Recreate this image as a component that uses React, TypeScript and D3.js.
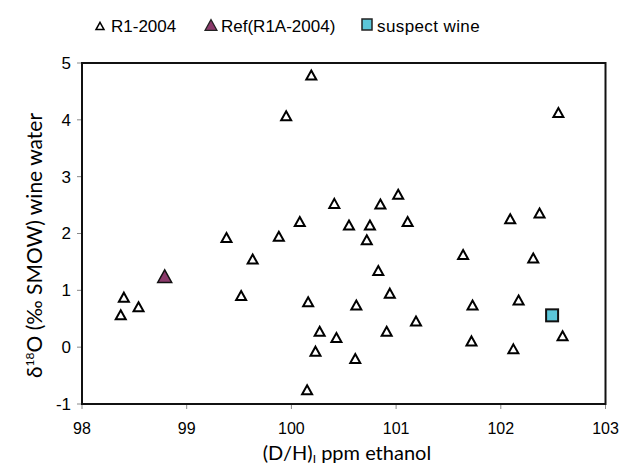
import * as d3 from 'd3'

// R1-2004 samples: (D/H)I ppm ethanol vs d18O wine water
const r1X = [
  100.19, 99.95, 102.55, 101.02, 100.41, 100.85, 102.37, 102.09, 100.08, 101.11,
  100.55, 100.75, 99.38, 99.88, 100.72, 101.64, 102.31, 99.63, 100.83, 98.4,
  99.52, 100.94, 102.17, 100.16, 100.62, 101.73, 98.54, 98.37, 101.19, 100.27,
  100.91, 102.59, 100.43, 101.72, 100.23, 102.12, 100.61, 100.15,
]
const r1Y = [
  4.79, 4.07, 4.13, 2.69, 2.53, 2.52, 2.36, 2.26, 2.21, 2.21,
  2.15, 2.15, 1.93, 1.95, 1.89, 1.63, 1.57, 1.55, 1.35, 0.88,
  0.91, 0.95, 0.83, 0.8, 0.74, 0.74, 0.71, 0.57, 0.46, 0.28,
  0.28, 0.2, 0.17, 0.11, -0.07, -0.03, -0.2, -0.75,
]
const refPoint = { x: 98.79, y: 1.25 }
const suspectPoint = { x: 102.49, y: 0.56 }

const xTicks = [98, 99, 100, 101, 102, 103]
const yTicks = [-1, 0, 1, 2, 3, 4, 5]

const width = 621
const height = 466
const margin = { left: 82, right: 15, top: 63, bottom: 62 }

const tri = (cx: number, cy: number, s: number) => {
  const h = s * 0.9
  return `M${cx},${cy - h / 2}L${cx + s / 2},${cy + h / 2}L${cx - s / 2},${cy + h / 2}Z`
}

export default function App() {
  const x = d3.scaleLinear().domain([98, 103]).range([margin.left, width - margin.right - 0.5])
  const y = d3.scaleLinear().domain([-1, 5]).range([height - margin.bottom, margin.top])

  const arial = '"Liberation Sans", Arial, sans-serif'
  const calibri = 'Lato, "Open Sans", sans-serif'

  const points = r1X.map((v, i) => ({ x: v, y: r1Y[i] }))

  return (
    <svg
      width={width}
      height={height}
      style={{ position: 'absolute', left: 0, top: 0, background: '#fff' }}
    >
      {/* legend */}
      <g fontFamily={arial} fontSize={17} fill="#000">
        <path d={tri(100, 26, 8)} fill="#fff" stroke="#000" strokeWidth={1.5} />
        <text x={111} y={32}>R1-2004</text>
        <path d={tri(211, 25, 12)} fill="#8b3a6b" stroke="#222" strokeWidth={1.2} />
        <text x={221} y={32}>Ref(R1A-2004)</text>
        <rect x={362} y={19} width={10} height={11} fill="#5bc6d9" stroke="#222" strokeWidth={1.5} />
        <text x={377} y={32} letterSpacing={0.4}>suspect wine</text>
      </g>

      {/* ticks */}
      {yTicks.map((t) => (
        <g key={'y' + t}>
          <line x1={margin.left - 5} x2={margin.left} y1={y(t)} y2={y(t)} stroke="#888" strokeWidth={1} />
          <text
            x={margin.left - 11}
            y={y(t)}
            dy="0.35em"
            textAnchor="end"
            fontFamily={arial}
            fontSize={17}
          >
            {t}
          </text>
        </g>
      ))}
      {xTicks.map((t) => (
        <g key={'x' + t}>
          <line x1={x(t)} x2={x(t)} y1={y(-1)} y2={y(-1) + 5} stroke="#888" strokeWidth={1} />
          <text x={x(t)} y={y(-1) + 30} textAnchor="middle" fontFamily={arial} fontSize={16}>
            {t}
          </text>
        </g>
      ))}

      {/* plot frame */}
      <rect
        x={x(98)}
        y={y(5)}
        width={x(103) - x(98)}
        height={y(-1) - y(5)}
        fill="none"
        stroke="#111"
        strokeWidth={2}
      />

      {/* R1 points */}
      {points.map((d, i) => (
        <path key={i} d={tri(x(d.x), y(d.y), 10)} fill="#fff" stroke="#000" strokeWidth={2} />
      ))}
      <path
        d={tri(x(refPoint.x), y(refPoint.y), 14)}
        fill="#8b3a6b"
        stroke="#111"
        strokeWidth={1.5}
      />
      <rect
        x={x(suspectPoint.x) - 6}
        y={y(suspectPoint.y) - 6}
        width={12}
        height={12}
        fill="#5bc6d9"
        stroke="#111"
        strokeWidth={2}
      />

      {/* axis titles */}
      <text
        x={x(100.53)}
        y={460}
        textAnchor="middle"
        fontFamily={calibri}
        fontSize={20}
      >
        (D/H)<tspan fontSize={12} dy={3}>I</tspan>
        <tspan dy={-3}> ppm ethanol</tspan>
      </text>
      <text
        transform={`translate(42,${(y(-1) + y(5)) / 2 + 12}) rotate(-90)`}
        textAnchor="middle"
        fontFamily={calibri}
        fontSize={21}
      >
        δ<tspan fontSize={12} dy={-8}>18</tspan>
        <tspan dy={8}>O  (‰ SMOW) wine water</tspan>
      </text>
    </svg>
  )
}
